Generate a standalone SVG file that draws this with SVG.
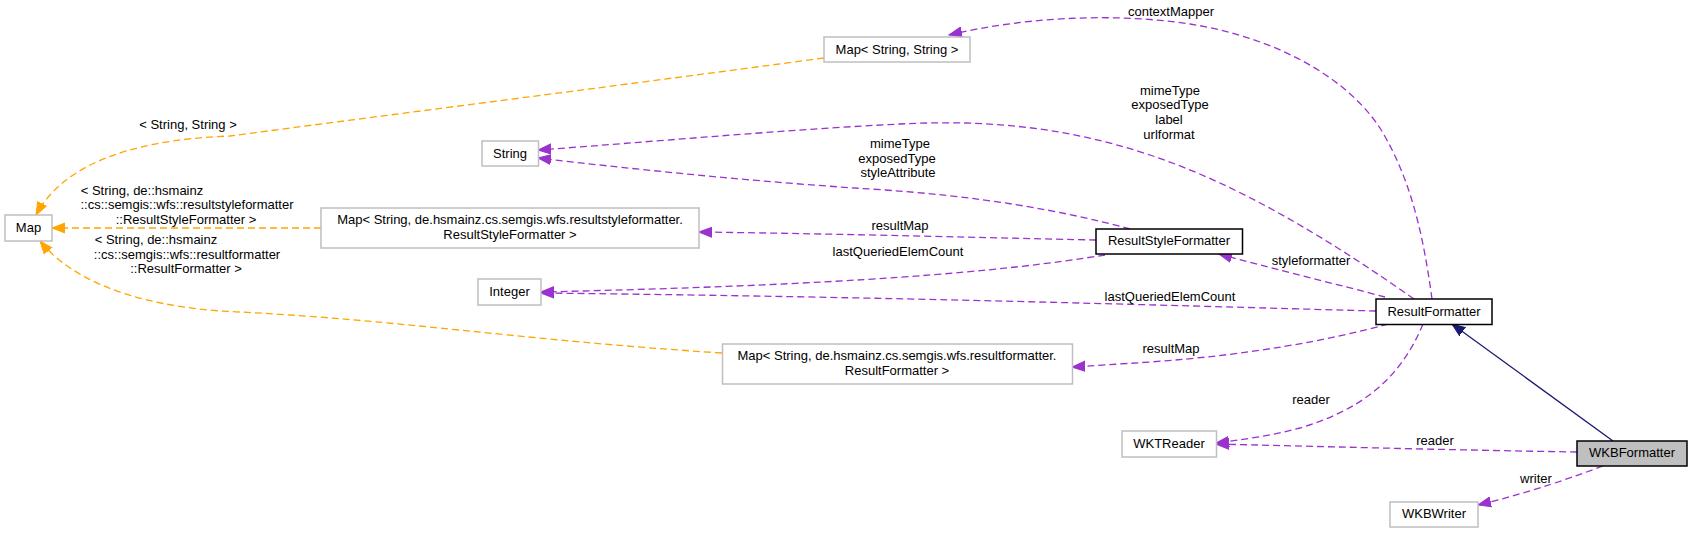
<svg xmlns="http://www.w3.org/2000/svg" width="1692" height="533" viewBox="0 0 1692 533">
<style>
text{font-family:"Liberation Sans",Arial,sans-serif;font-size:13px;fill:#000;text-anchor:middle}
.ext{fill:#fff;stroke:#bfbfbf;stroke-width:1.5}
.doc{fill:#fff;stroke:#000;stroke-width:1.5}
.cur{fill:#bfbfbf;stroke:#000;stroke-width:1.5}
.use{fill:none;stroke:#9a32cd;stroke-width:1.3;stroke-dasharray:7,4;marker-end:url(#aP)}
.tpl{fill:none;stroke:#ffa500;stroke-width:1.3;stroke-dasharray:7,4;marker-end:url(#aO)}
.inh{fill:none;stroke:#191970;stroke-width:1.3;marker-end:url(#aN)}
</style>
<defs>
<marker id="aP" markerUnits="userSpaceOnUse" markerWidth="14" markerHeight="12" refX="13" refY="6" orient="auto" viewBox="0 0 14 12"><path d="M0,1 L13,6 L0,11 z" fill="#9a32cd" stroke="#9a32cd"/></marker>
<marker id="aO" markerUnits="userSpaceOnUse" markerWidth="14" markerHeight="12" refX="13" refY="6" orient="auto" viewBox="0 0 14 12"><path d="M0,1 L13,6 L0,11 z" fill="#ffa500" stroke="#ffa500"/></marker>
<marker id="aN" markerUnits="userSpaceOnUse" markerWidth="14" markerHeight="12" refX="13" refY="6" orient="auto" viewBox="0 0 14 12"><path d="M0,1 L13,6 L0,11 z" fill="#191970" stroke="#191970"/></marker>
</defs>
<rect width="1692" height="533" fill="#fff"/>
<g id="edges">
<path class="tpl" d="M824,58 C600,88 380,116 230,136 C120,140 60,170 36,215"/>
<text x="188" y="129">&lt; String, String &gt;</text>
<path class="tpl" d="M321,228 L52,228"/>
<text x="142" y="195">&lt; String, de::hsmainz</text>
<text x="187" y="209">::cs::semgis::wfs::resultstyleformatter</text>
<text x="186" y="224">::ResultStyleFormatter &gt;</text>
<path class="tpl" d="M722,353 C520,340 400,320 240,312 C160,309 80,290 40,241"/>
<text x="156" y="244">&lt; String, de::hsmainz</text>
<text x="187" y="259">::cs::semgis::wfs::resultformatter</text>
<text x="186" y="273">::ResultFormatter &gt;</text>
<path class="use" d="M1432,299 C1424,240 1412,180 1380,128 C1340,68 1260,35 1190,24 C1110,12 1020,18 949,35"/>
<text x="1171" y="16">contextMapper</text>
<path class="use" d="M1414,299 C1330,240 1240,185 1150,155 C1060,125 980,120 900,124 C780,130 650,142 538,150"/>
<text x="1170" y="95">mimeType</text>
<text x="1170" y="109">exposedType</text>
<text x="1169" y="124">label</text>
<text x="1169" y="139">urlformat</text>
<path class="use" d="M1130,229 C1060,210 980,196 870,189 C760,182 640,170 538,158"/>
<text x="900" y="148">mimeType</text>
<text x="897" y="163">exposedType</text>
<text x="898" y="177">styleAttribute</text>
<path class="use" d="M1096,240 C1000,238 850,234 699,232"/>
<text x="900" y="230">resultMap</text>
<path class="use" d="M1105,255 C1000,272 850,285 541,292"/>
<text x="898" y="256">lastQueriedElemCount</text>
<path class="use" d="M1376,311 C1150,305 900,297 541,293"/>
<text x="1170" y="301">lastQueriedElemCount</text>
<path class="use" d="M1385,297 C1340,285 1270,268 1219,254"/>
<text x="1311" y="265">styleformatter</text>
<path class="use" d="M1388,324 C1330,340 1250,355 1150,362 C1120,364 1090,366 1072,367"/>
<text x="1171" y="353">resultMap</text>
<path class="use" d="M1423,324 C1400,380 1360,410 1300,428 C1270,436 1240,440 1216,443"/>
<text x="1311" y="404">reader</text>
<path class="use" d="M1577,452 C1450,450 1300,446 1216,444"/>
<text x="1435" y="445">reader</text>
<path class="use" d="M1603,466 C1560,482 1520,495 1478,505"/>
<text x="1536" y="483">writer</text>
<path class="inh" d="M1613,441 L1452,324"/>
</g>
<g id="node-Map"><rect class="ext" x="5" y="215" width="47" height="26"/><text x="28.5" y="232">Map</text></g>
<g id="node-MapStringString"><rect class="ext" x="824" y="37" width="146" height="25"/><text x="897" y="54">Map&lt; String, String &gt;</text></g>
<g id="node-String"><rect class="ext" x="482" y="141" width="56.5" height="25"/><text x="510" y="158">String</text></g>
<g id="node-MapRSF"><rect class="ext" x="321" y="208" width="378" height="40"/><text x="510" y="224">Map&lt; String, de.hsmainz.cs.semgis.wfs.resultstyleformatter.</text><text x="510" y="239">ResultStyleFormatter &gt;</text></g>
<g id="node-Integer"><rect class="ext" x="478" y="279" width="63" height="26"/><text x="509.5" y="296">Integer</text></g>
<g id="node-ResultStyleFormatter"><rect class="doc" x="1096" y="229" width="146.5" height="25"/><text x="1169" y="245">ResultStyleFormatter</text></g>
<g id="node-ResultFormatter"><rect class="doc" x="1376" y="299" width="116" height="25.5"/><text x="1434" y="316">ResultFormatter</text></g>
<g id="node-MapRF"><rect class="ext" x="722.5" y="344" width="350" height="40"/><text x="897" y="360">Map&lt; String, de.hsmainz.cs.semgis.wfs.resultformatter.</text><text x="897" y="375">ResultFormatter &gt;</text></g>
<g id="node-WKTReader"><rect class="ext" x="1122" y="431" width="94.5" height="26"/><text x="1169" y="448">WKTReader</text></g>
<g id="node-WKBFormatter"><rect class="cur" x="1577" y="441" width="110" height="25"/><text x="1632" y="457">WKBFormatter</text></g>
<g id="node-WKBWriter"><rect class="ext" x="1390" y="502" width="88" height="25"/><text x="1434" y="518">WKBWriter</text></g>
</svg>
